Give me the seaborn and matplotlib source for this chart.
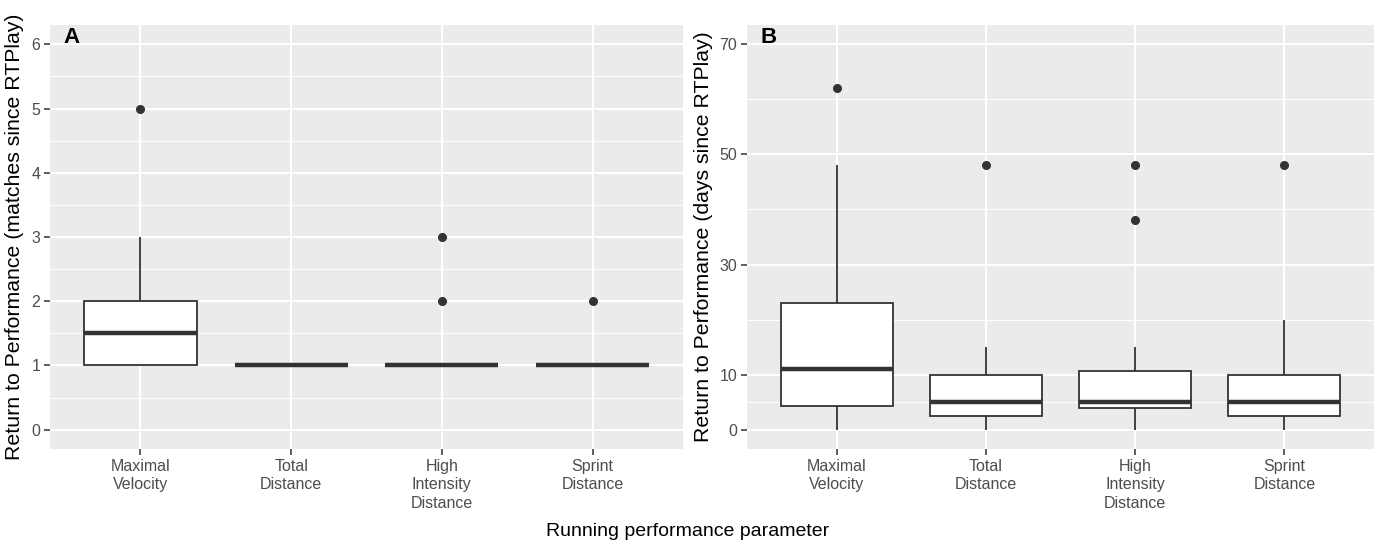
import matplotlib
matplotlib.use("Agg")
import matplotlib.pyplot as plt
from matplotlib.ticker import FixedLocator
import pandas as pd
import seaborn as sns

# Running performance parameters (x categories)
params = ["Maximal\nVelocity", "Total\nDistance", "High\nIntensity\nDistance", "Sprint\nDistance"]

# Panel A: return to performance, matches since RTPlay
matches_velocity = [1, 1, 1, 1, 1, 2, 2, 2, 3, 5]
matches_total = [1, 1, 1, 1, 1, 1, 1, 1, 1, 1]
matches_high = [1, 1, 1, 1, 1, 1, 1, 1, 2, 3]
matches_sprint = [1, 1, 1, 1, 1, 1, 1, 1, 1, 2]

# Panel B: return to performance, days since RTPlay
days_velocity = [0, 2, 4, 5, 10, 12, 20, 24, 48, 62]
days_total = [0, 1, 2, 4, 5, 5, 10, 10, 15, 48]
days_high = [0, 2, 3, 4, 4, 5, 5, 5, 8, 10, 11, 15, 38, 48]
days_sprint = [0, 1, 2, 4, 5, 5, 10, 10, 20, 48]

a_ticks = [0, 1, 2, 3, 4, 5, 6]
b_ticks = [0, 10, 30, 50, 70]


def long_frame(series):
    rows = []
    for name, vals in zip(params, series):
        for v in vals:
            rows.append({"parameter": name, "value": v})
    return pd.DataFrame(rows)


df_a = long_frame([matches_velocity, matches_total, matches_high, matches_sprint])
df_b = long_frame([days_velocity, days_total, days_high, days_sprint])

plt.rcParams["font.family"] = ["Liberation Sans", "DejaVu Sans"]

W, H = 1376, 540
fig = plt.figure(figsize=(W / 100, H / 100), dpi=100)
ax_a = fig.add_axes([50 / W, (H - 449) / H, 633 / W, 424 / H])
ax_b = fig.add_axes([747 / W, (H - 449) / H, 627 / W, 424 / H])

dark = "#333333"


def draw_panel(ax, df, ticks, minor, ylim, ylabel, letter):
    ax.set_facecolor("#EBEBEB")
    sns.boxplot(data=df, x="parameter", y="value", order=params, ax=ax,
                width=0.75, color="white", saturation=1, linecolor=dark,
                linewidth=1.3, showcaps=False, fliersize=5.5,
                flierprops=dict(marker="o", markerfacecolor=dark, markeredgecolor=dark),
                medianprops=dict(linewidth=3.2, color=dark))
    ax.set_xlim(-0.6, 3.6)
    ax.set_ylim(*ylim)
    ax.set_yticks(ticks)
    ax.yaxis.set_minor_locator(FixedLocator(minor))
    ax.set_axisbelow(True)
    ax.grid(which="major", color="white", linewidth=1.5)
    ax.grid(which="minor", axis="y", color="white", linewidth=0.7)
    for s in ax.spines.values():
        s.set_visible(False)
    ax.tick_params(which="major", color=dark, length=4.5, width=1.1,
                   labelcolor="#4D4D4D", labelsize=11.5, pad=2.5)
    ax.tick_params(which="minor", length=0)
    for lab in ax.get_xticklabels():
        lab.set_linespacing(1.3)
    ax.set_xlabel("")
    ax.set_ylabel(ylabel, fontsize=15.3, color="black", labelpad=5)
    ax.text(0.022, 0.97, letter, transform=ax.transAxes, fontsize=16,
            fontweight="bold", color="black", va="center", ha="left")


draw_panel(ax_a, df_a, a_ticks, [0.5, 1.5, 2.5, 3.5, 4.5, 5.5], (-0.3, 6.3),
           "Return to Performance (matches since RTPlay)", "A")
draw_panel(ax_b, df_b, b_ticks, [5, 20, 40, 60], (-3.5, 73.5),
           "Return to Performance (days since RTPlay)", "B")

fig.text(688 / W, 4 / H, "Running performance parameter", ha="center",
         va="baseline", fontsize=14, color="black")

fig.savefig("out.png", dpi=100)
